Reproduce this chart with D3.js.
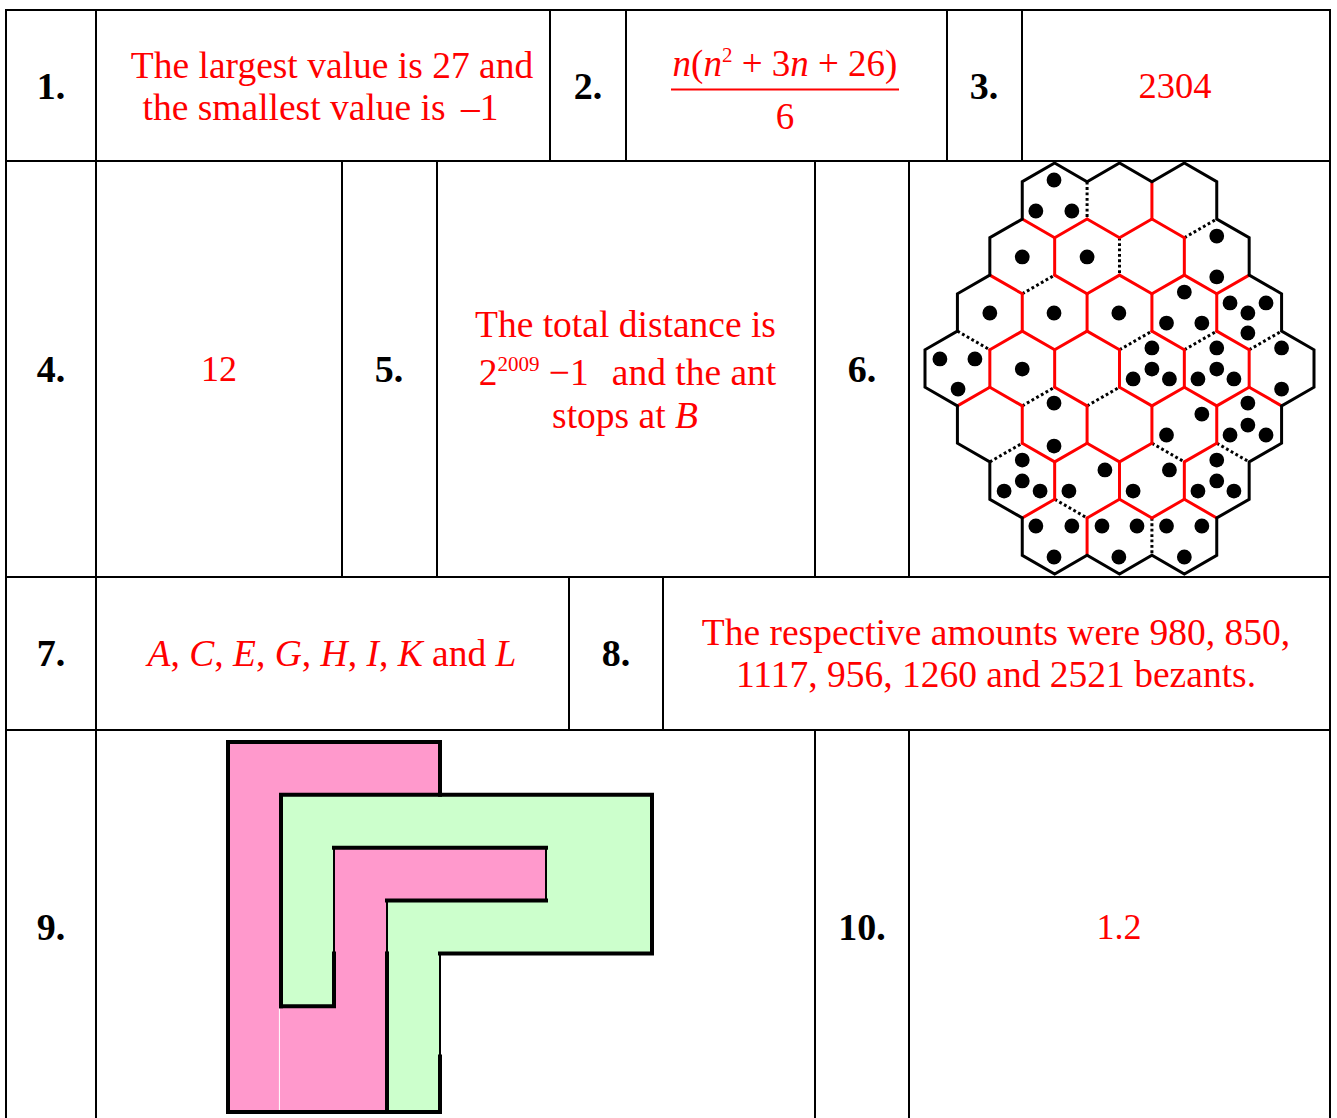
<!DOCTYPE html>
<html>
<head>
<meta charset="utf-8">
<script src="https://d3js.org/d3.v7.min.js"></script>
<style>
  body { margin: 0; background: #fff; }
  svg { display: block; }
  text { font-family: "Liberation Serif", serif; font-size: 37.5px; }
</style>
</head>
<body>
<div id="chart"></div>
<script>
// answer numbers and where each row of the table breaks
const numberLabels = ["1.", "2.", "3.", "4.", "5.", "6.", "7.", "8.", "9.", "10."];
const rowLines = [10, 161, 577, 730];
const rowColumns = [
    [6, 96, 550, 626, 947, 1022, 1330],
    [6, 96, 342, 437, 815, 909, 1330],
    [6, 96, 569, 663, 1330],
    [6, 96, 815, 909, 1330]
];

// hexagon board in lattice units: u = half a hexagon across, v = half a side down
const hexOutline = [[4,0],[5,1],[6,0],[7,1],[8,0],[9,1],[9,3],[10,4],[10,6],[11,7],[11,9],[12,10],[12,12],[11,13],
    [11,15],[10,16],[10,18],[9,19],[9,21],[8,22],[7,21],[6,22],[5,21],[4,22],[3,21],[3,19],[2,18],[2,16],[1,15],
    [1,13],[0,12],[0,10],[1,9],[1,7],[2,6],[2,4],[3,3],[3,1]];
const redEdges = [
    [7,1,7,3],
    [3,3,4,4],[4,4,5,3],[5,3,6,4],[6,4,7,3],[7,3,8,4],
    [4,4,4,6],[8,4,8,6],
    [2,6,3,7],[4,6,5,7],[5,7,6,6],[6,6,7,7],[7,7,8,6],[8,6,9,7],[9,7,10,6],
    [3,7,3,9],[5,7,5,9],[7,7,7,9],[9,7,9,9],
    [2,10,3,9],[3,9,4,10],[4,10,5,9],[5,9,6,10],[7,9,8,10],[9,9,10,10],
    [2,10,2,12],[4,10,4,12],[6,10,6,12],[8,10,8,12],[10,10,10,12],
    [1,13,2,12],[2,12,3,13],[4,12,5,13],[6,12,7,13],[7,13,8,12],[8,12,9,13],[9,13,10,12],[10,12,11,13],
    [3,13,3,15],[5,13,5,15],[7,13,7,15],[9,13,9,15],
    [3,15,4,16],[4,16,5,15],[5,15,6,16],[6,16,7,15],[8,16,9,15],
    [4,16,4,18],[6,16,6,18],[8,16,8,18],
    [3,19,4,18],[5,19,6,18],[6,18,7,19],[7,19,8,18],[8,18,9,19],
    [5,19,5,21]
];
const dottedEdges = [
    [5,1,5,3],[8,4,9,3],[6,4,6,6],[3,7,4,6],
    [1,9,2,10],[6,10,7,9],[8,10,9,9],[10,10,11,9],
    [3,13,4,12],[5,13,6,12],
    [2,16,3,15],[7,15,8,16],[9,15,10,16],
    [4,18,5,19],[7,19,7,21]
];
const hexDots = [
    [3.98,0.91],[3.42,2.57],[4.53,2.57],
    [9,3.91],[3,5.03],[5,5.03],[9,6.1],
    [8,6.91],[9.41,7.49],[10.52,7.49],[2,8.03],[3.98,8.03],[5.98,8.03],[9.96,8.03],[7.45,8.57],[8.54,8.57],[9.96,9.1],
    [7,9.9],[9,9.9],[11,9.9],[0.46,10.49],[1.54,10.49],[3,11.03],[7,11.03],[9,11.03],
    [6.42,11.56],[7.54,11.56],[8.42,11.56],[9.53,11.56],[1.02,12.1],[11,12.1],
    [3.98,12.85],[9.96,12.85],[8.54,13.44],[9.96,14.03],[7.45,14.56],[9.41,14.56],[10.52,14.56],[3.98,15.15],
    [3,15.9],[9,15.9],[5.55,16.43],[7.54,16.43],[3,17.02],[9,17.02],
    [2.44,17.56],[3.55,17.56],[4.44,17.56],[6.42,17.56],[8.42,17.56],[9.53,17.56],
    [3.42,19.43],[4.53,19.43],[5.46,19.43],[6.54,19.43],[7.45,19.43],[8.54,19.43],
    [3.98,21.09],[5.98,21.09],[8,21.09]
];

// the folded strip in question 9, in grid squares
const pinkCells = [[0,0],[4,0],[4,1],[1,1],[1,5],[2,5],[2,2],[6,2],[6,3],[3,3],[3,7],[0,7]];
const greenCells = [[1,1],[8,1],[8,4],[4,4],[4,7],[3,7],[3,3],[6,3],[6,2],[2,2],[2,5],[1,5]];
const thickWalls = [
    [[4,1],[4,0],[0,0],[0,7],[4,7],[4,5.95]],
    [[1,5],[1,1],[8,1],[8,4],[4,4]],
    [[6,2],[2,2]],
    [[3,7],[3,4]],
    [[2,4],[2,5],[1,5]],
    [[3,3],[6,3]]
];
const thinWalls = [[[2,2],[2,4]], [[3,3],[3,4]], [[6,2],[6,3]], [[4,4],[4,5.95]]];

const width = 1337,
    height = 1118;

const svg = d3.select("#chart")
    .append("svg")
    .attr("width", width)
    .attr("height", height)
    .attr("viewBox", [0, 0, width, height]);

// table grid
const grid = svg.append("g").attr("stroke", "#000").attr("stroke-width", 2);
rowLines.forEach(y => grid.append("line").attr("x1", 5).attr("x2", 1331).attr("y1", y).attr("y2", y));
rowColumns.forEach((cols, i) => {
    const bottom = i < 3 ? rowLines[i + 1] : height;
    cols.forEach(x => grid.append("line").attr("x1", x).attr("x2", x).attr("y1", rowLines[i]).attr("y2", bottom));
});

// question numbers
const numberX = [51, 588, 984, 51, 389, 862, 51, 616, 51, 862];
const numberY = [99, 99, 99, 382, 382, 382, 666, 666, 940, 940];
svg.append("g")
    .selectAll("text")
    .data(numberLabels)
    .join("text")
    .attr("x", (d, i) => numberX[i])
    .attr("y", (d, i) => numberY[i])
    .attr("text-anchor", "middle")
    .attr("font-weight", "bold")
    .style("font-size", "38px")
    .attr("fill", "#000")
    .text(d => d);

// red answers, each one a list of runs so italics and superscripts can sit inline
const answers = [
    { x: 332, y: 78, runs: [{ t: "The largest value is 27 and" }] },
    { x: 320.5, y: 120, runs: [{ t: "the smallest value is" }, { t: "\u00a0\u2013", dx: 6 }, { t: "1" }] },
    { x: 785, y: 76, size: 37, runs: [{ t: "n", i: 1 }, { t: "(" }, { t: "n", i: 1 }, { t: "2", sup: 1 }, { t: " + 3" }, { t: "n", i: 1 }, { t: " + 26)" }] },
    { x: 785, y: 129, size: 37, runs: [{ t: "6" }] },
    { x: 1175, y: 98, size: 36.5, runs: [{ t: "2304" }] },
    { x: 219, y: 381, size: 36, runs: [{ t: "12" }] },
    { x: 625.5, y: 337, runs: [{ t: "The total distance is" }] },
    { x: 627.5, y: 385, runs: [{ t: "2" }, { t: "2009", sup: 1 }, { t: " \u22121" }, { t: "and the ant", dx: 23 }] },
    { x: 625, y: 428, runs: [{ t: "stops at " }, { t: "B", i: 1 }] },
    { x: 332, y: 666, runs: [{ t: "A", i: 1 }, { t: ", " }, { t: "C", i: 1 }, { t: ", " }, { t: "E", i: 1 }, { t: ", " }, { t: "G", i: 1 }, { t: ", " }, { t: "H", i: 1 }, { t: ", " }, { t: "I", i: 1 }, { t: ", " }, { t: "K", i: 1 }, { t: " and " }, { t: "L", i: 1 }] },
    { x: 996, y: 645, runs: [{ t: "The respective amounts were 980, 850," }] },
    { x: 996, y: 687, runs: [{ t: "1117, 956, 1260 and 2521 bezants." }] },
    { x: 1119, y: 939, size: 36, runs: [{ t: "1.2" }] }
];

const answerText = svg.append("g")
    .selectAll("text")
    .data(answers)
    .join("text")
    .attr("x", d => d.x)
    .attr("y", d => d.y)
    .attr("text-anchor", "middle")
    .style("font-size", d => d.size ? d.size + "px" : null)
    .attr("fill", "#f00");

answerText.selectAll("tspan")
    .data(d => d.runs)
    .join("tspan")
    .attr("font-style", d => d.i ? "italic" : null)
    .style("font-size", d => d.sup ? "21px" : null)
    .attr("dx", d => d.dx || null)
    .attr("dy", (d, i, nodes) => {
        if (d.sup) return -14;
        const prev = i > 0 ? d3.select(nodes[i - 1]).datum() : null;
        return prev && prev.sup ? 14 : 0;
    })
    .text(d => d.t);

// fraction bar for answer 2
svg.append("line")
    .attr("x1", 671).attr("x2", 899)
    .attr("y1", 89.5).attr("y2", 89.5)
    .attr("stroke", "#f00")
    .attr("stroke-width", 2);

// hexagon board
const hexX = d3.scaleLinear([0, 12], [925, 1314]);
const hexY = d3.scaleLinear([0, 22], [163, 574]);

const board = svg.append("g").attr("fill", "none").attr("stroke-width", 3);

board.selectAll(".dotted")
    .data(dottedEdges)
    .join("line")
    .attr("class", "dotted")
    .attr("x1", d => hexX(d[0])).attr("y1", d => hexY(d[1]))
    .attr("x2", d => hexX(d[2])).attr("y2", d => hexY(d[3]))
    .attr("stroke", "#000")
    .attr("stroke-dasharray", "2.8 2.6");

board.selectAll(".red")
    .data(redEdges)
    .join("line")
    .attr("class", "red")
    .attr("x1", d => hexX(d[0])).attr("y1", d => hexY(d[1]))
    .attr("x2", d => hexX(d[2])).attr("y2", d => hexY(d[3]))
    .attr("stroke", "#f00")
    .attr("stroke-linecap", "round");

board.append("path")
    .attr("d", d3.line().x(d => hexX(d[0])).y(d => hexY(d[1])).curve(d3.curveLinearClosed)(hexOutline))
    .attr("stroke", "#000");

svg.append("g")
    .selectAll("circle")
    .data(hexDots)
    .join("circle")
    .attr("cx", d => hexX(d[0]))
    .attr("cy", d => hexY(d[1]))
    .attr("r", 7.4)
    .attr("fill", "#000");

// folded strip
const stripX = d3.scaleLinear([0, 8], [228, 652]);
const stripY = d3.scaleLinear([0, 7], [742, 1112]);
const stripLine = d3.line().x(d => stripX(d[0])).y(d => stripY(d[1]));

svg.append("path").attr("d", stripLine(pinkCells) + "Z").attr("fill", "#ff99cc");
svg.append("path").attr("d", stripLine(greenCells) + "Z").attr("fill", "#ccffcc");

// faint seam left over in the pink strip
svg.append("path")
    .attr("d", stripLine([[0.97, 5], [0.97, 7]]))
    .attr("stroke", "#fff")
    .attr("fill", "none");

svg.append("g")
    .selectAll("path")
    .data(thickWalls)
    .join("path")
    .attr("d", stripLine)
    .attr("fill", "none")
    .attr("stroke", "#000")
    .attr("stroke-width", 4)
    .attr("stroke-linecap", "square");

svg.append("g")
    .selectAll("path")
    .data(thinWalls)
    .join("path")
    .attr("d", stripLine)
    .attr("fill", "none")
    .attr("stroke", "#000")
    .attr("stroke-width", 2);
</script>
</body>
</html>
